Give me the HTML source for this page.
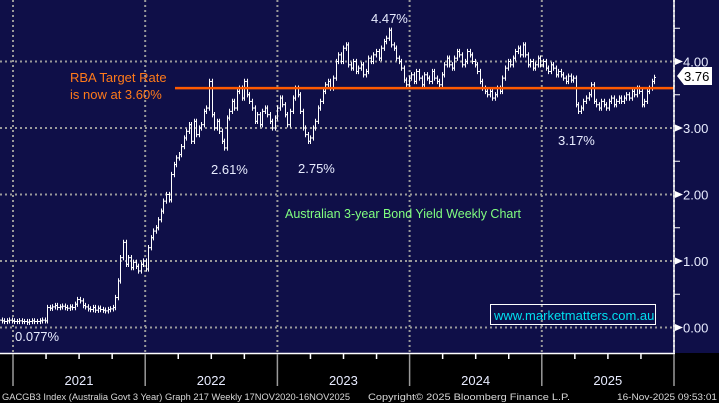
<!DOCTYPE html>
<html><head><meta charset="utf-8"><style>
html,body{margin:0;padding:0;background:#000;}
svg{display:block;font-family:"Liberation Sans",sans-serif;}
</style></head><body>
<svg id="chart" width="719" height="403" viewBox="0 0 719 403">
<rect x="0" y="0" width="719" height="403" fill="#000"/>
<rect x="0" y="0" width="719" height="353" fill="#0f0f48"/>
<g id="grid"></g>
<g id="bars"></g>
<line x1="175" x2="674" y1="0" y2="0" id="rba" stroke="#ff5a00" stroke-width="2.5"/>
<line x1="674" y1="0" x2="674" y2="354" stroke="#fff" stroke-width="1.5"/>
<line x1="0" y1="353.5" x2="675" y2="353.5" stroke="#fff" stroke-width="1.5"/>
<g id="yaxis"></g>
<g id="xaxis"></g>
<text x="70" y="82" fill="#ff7a1a" font-size="13">RBA Target Rate</text>
<text x="70" y="99" fill="#ff7a1a" font-size="13">is now at 3.60%</text>
<text x="371" y="23" fill="#e8ecff" font-size="13">4.47%</text>
<text x="211" y="174" fill="#e8ecff" font-size="13">2.61%</text>
<text x="298" y="173" fill="#e8ecff" font-size="13">2.75%</text>
<text x="558" y="145" fill="#e8ecff" font-size="13">3.17%</text>
<text x="15" y="341" fill="#e8ecff" font-size="13">0.077%</text>
<text x="285" y="218" fill="#80ff80" font-size="12.5">Australian 3-year Bond Yield Weekly Chart</text>
<rect x="490.5" y="304.5" width="165" height="20" fill="none" stroke="#fff" stroke-width="1"/>
<text x="494" y="320" fill="#00e0f0" font-size="13">www.marketmatters.com.au</text>
<g id="lastlabel">
<path d="M677,76 L684,67 L712,67 L712,85 L684,85 Z" fill="#fff"/>
<text x="684" y="81" fill="#000" font-size="13">3.76</text>
</g>
<text x="2" y="400" fill="#d8d8d8" font-size="9.5" textLength="348" lengthAdjust="spacingAndGlyphs">GACGB3 Index (Australia Govt 3 Year) Graph 217 Weekly 17NOV2020-16NOV2025</text>
<text x="368" y="400" fill="#d8d8d8" font-size="9.5" textLength="202" lengthAdjust="spacingAndGlyphs">Copyright© 2025 Bloomberg Finance L.P.</text>
<text x="617" y="400" fill="#d8d8d8" font-size="9.5" textLength="100" lengthAdjust="spacingAndGlyphs">16-Nov-2025 09:53:01</text>
</svg>
<script>
const closes = [
0.10,0.11,0.10,0.09,0.10,0.11,0.10,0.09,0.09,0.10,
0.09,0.09,0.08,0.09,0.10,0.09,0.09,0.10,0.11,0.10,
0.30,0.29,0.31,0.33,0.30,0.31,0.32,0.30,0.29,0.31,
0.30,0.35,0.42,0.40,0.33,0.31,0.28,0.27,0.30,0.26,
0.29,0.27,0.26,0.25,0.27,0.28,0.30,0.45,0.70,1.05,
1.28,0.95,1.05,0.90,0.98,0.92,0.85,0.95,1.00,0.88,
1.20,1.35,1.45,1.50,1.62,1.75,1.90,2.00,1.92,2.30,
2.45,2.55,2.60,2.72,2.85,2.95,3.05,2.80,3.10,2.90,
3.00,3.05,3.25,3.30,3.70,3.20,3.00,3.10,2.95,2.80,
2.70,3.15,3.25,3.40,3.30,3.55,3.60,3.45,3.70,3.50,
3.40,3.30,3.10,3.20,3.05,3.25,3.30,3.20,3.10,3.00,
3.15,3.30,3.45,3.35,3.20,3.05,3.25,3.45,3.60,3.50,
3.25,3.00,2.90,2.80,2.85,3.00,3.10,3.30,3.40,3.55,
3.65,3.70,3.60,3.75,4.00,4.10,4.00,4.20,4.25,3.95,
3.90,4.00,3.85,3.90,3.95,3.80,3.85,4.05,4.00,4.10,
4.15,4.05,4.20,4.30,4.35,4.47,4.25,4.20,4.05,4.00,
3.90,3.72,3.65,3.75,3.80,3.70,3.85,3.75,3.65,3.80,
3.75,3.70,3.85,3.75,3.70,3.65,3.80,3.95,4.05,3.95,
3.90,4.05,4.15,4.10,3.95,4.00,4.15,4.10,4.00,3.95,
3.85,3.70,3.60,3.55,3.50,3.55,3.45,3.50,3.60,3.55,
3.75,3.90,4.00,3.95,4.05,4.15,4.20,4.10,4.25,4.10,
3.95,4.00,3.90,3.95,4.05,3.95,4.00,3.90,3.85,3.95,
3.90,3.80,3.85,3.80,3.75,3.70,3.78,3.72,3.75,3.35,
3.25,3.30,3.40,3.45,3.50,3.65,3.40,3.35,3.30,3.40,
3.35,3.30,3.40,3.45,3.35,3.40,3.45,3.40,3.45,3.50,
3.45,3.55,3.50,3.60,3.55,3.35,3.40,3.55,3.60,3.70,
3.76];
const yTicks = [0, 1, 2, 3, 4];
const yTickLabels = ["0.00","1.00","2.00","3.00","4.00"];
const years = ["2021","2022","2023","2024","2025"];
const rbaRate = 3.60;

const NS = "http://www.w3.org/2000/svg";
function yScale(v){ return 327.5 - 66.5 * v; }
function xScale(i){ return -3.5 + 2.53 * i; }
function yearX(k){ return 13 + 132.2 * k; }
function mk(tag, attrs, parent){ const e=document.createElementNS(NS,tag); for(const k in attrs) e.setAttribute(k,attrs[k]); parent.appendChild(e); return e; }

const grid=document.getElementById('grid'), bars=document.getElementById('bars');
const yaxis=document.getElementById('yaxis'), xaxis=document.getElementById('xaxis');

yTicks.forEach((v,k)=>{
  const y=yScale(v);
  const g=mk('line',{x1:0,x2:674,y1:y,y2:y,stroke:'#9a9a9a','stroke-width':2,'stroke-dasharray':'2,3'},grid);
  
  
  const a=mk('path',{d:`M675,${y-3.5} L683,${y} L675,${y+3.5} Z`,fill:'#fff'},yaxis);
  
  
  const t=mk('text',{x:683,y:y+5,fill:'#e8ecff','font-size':13},yaxis);
  t.textContent=yTickLabels[k];
  
  
});
for(let v=0.5; v<=4.5; v+=1){
  const y=yScale(v);
  const m=mk('line',{x1:674,x2:680,y1:y,y2:y,stroke:'#fff','stroke-width':1},yaxis);
  
  
}
for(let k=0;k<=5;k++){
  const x=yearX(k);
  const g=mk('line',{x1:x,x2:x,y1:0,y2:353,stroke:'#9a9a9a','stroke-width':2,'stroke-dasharray':'2,3'},grid);
  
  
  const t=mk('line',{x1:x,x2:x,y1:354,y2:386,stroke:'#9a9a9a','stroke-width':1.5},xaxis);
  
  
  if(k<5){
    for(let q=1;q<4;q++){
      const qx=x+q*33.05;
      const m=mk('line',{x1:qx,x2:qx,y1:354,y2:359,stroke:'#fff','stroke-width':1.5},xaxis);
      
      
    }
    const l=mk('text',{x:x+66,y:385,fill:'#e8ecff','font-size':13,'text-anchor':'middle'},xaxis);
    l.textContent=years[k];
    
    
  }
}
const rba=document.getElementById('rba');
rba.setAttribute('y1',yScale(rbaRate)); rba.setAttribute('y2',yScale(rbaRate));

closes.forEach((c,i)=>{
  const o = i>0 ? closes[i-1] : c;
  const hi = Math.max(o,c)+0.04, lo = Math.min(o,c)-0.04;
  const x=Math.round(xScale(i))+0.5;
  const g=mk('g',{stroke:'#fff','stroke-width':1},bars);
  
  
  mk('line',{x1:x,x2:x,y1:yScale(hi),y2:yScale(lo)},g);
  mk('line',{x1:x-1.5,x2:x,y1:yScale(o),y2:yScale(o)},g);
  mk('line',{x1:x,x2:x+1.5,y1:yScale(c),y2:yScale(c)},g);
});
</script>
</body></html>
